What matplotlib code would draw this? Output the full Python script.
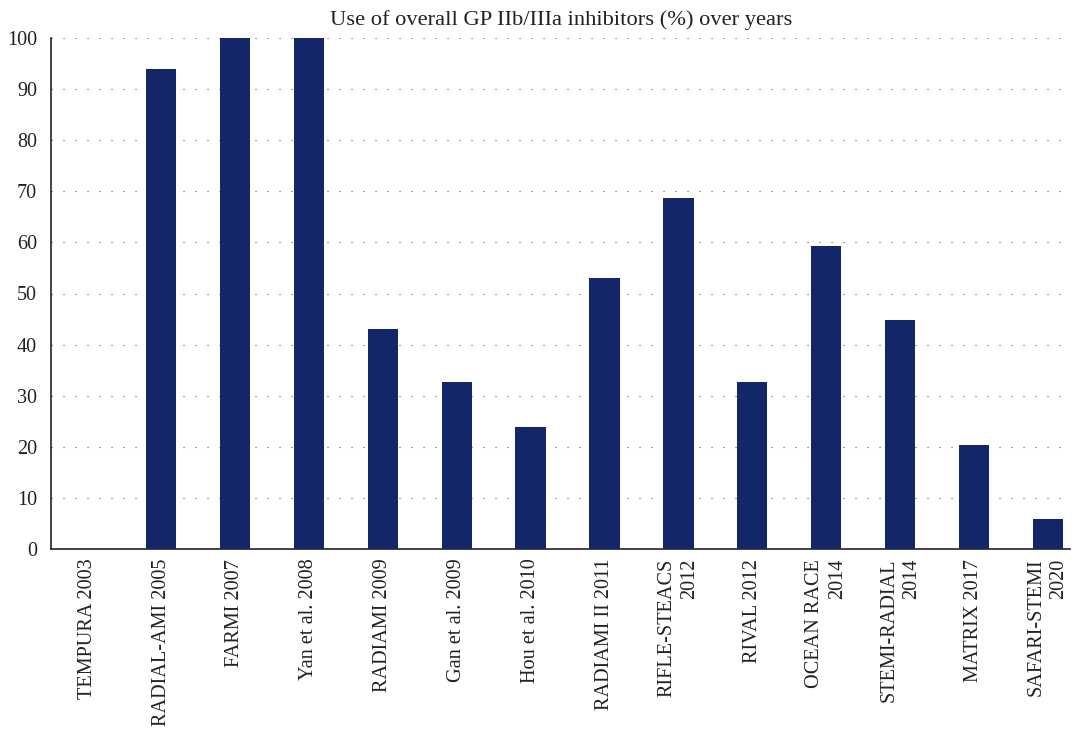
import matplotlib.pyplot as plt

# data
studies = ["TEMPURA 2003", "RADIAL-AMI 2005", "FARMI 2007", "Yan et al. 2008",
           "RADIAMI 2009", "Gan et al. 2009", "Hou et al. 2010", "RADIAMI II 2011",
           "RIFLE-STEACS\n2012", "RIVAL 2012", "OCEAN RACE\n2014",
           "STEMI-RADIAL\n2014", "MATRIX 2017", "SAFARI-STEMI\n2020"]
gp_use = [0, 94, 100, 100, 43, 32.7, 23.8, 53, 68.7, 32.7, 59.3, 44.8, 20.3, 5.9]
yticks = [0, 10, 20, 30, 40, 50, 60, 70, 80, 90, 100]

plt.rcParams["font.family"] = ["Liberation Serif", "DejaVu Serif"]

fig = plt.figure(figsize=(10.76, 7.31), dpi=100)
ax = fig.add_axes([51 / 1076, 1 - 549 / 731, (1070 - 51) / 1076, (549 - 38) / 731])

x = list(range(len(studies)))
ax.bar(x, gp_use, width=0.41, color="#13266a", zorder=3)

ax.set_xlim(-0.49, 13.3)
ax.set_ylim(0, 100)
ax.set_yticks(yticks)
ax.tick_params(axis="y", length=0, labelsize=14.5, colors="#222222", pad=10)
ax.tick_params(axis="x", length=0, pad=7)
ax.set_xticks(x)
ax.set_xticklabels(studies, rotation=90, fontsize=14.6, color="#222222",
                   va="top", ha="center", multialignment="right", linespacing=1.25)

ax.grid(axis="y", linestyle=(0, (1, 9.8)), color="#555555", linewidth=0.8, zorder=0)
for s in ["top", "right"]:
    ax.spines[s].set_visible(False)
for s in ["left", "bottom"]:
    ax.spines[s].set_color("#222222")
    ax.spines[s].set_linewidth(1.2)

ax.set_title("Use of overall GP IIb/IIIa inhibitors (%) over years",
             fontsize=16.2, color="#222222", pad=9, x=(561 - 51) / (1070 - 51))

fig.savefig("out.png", dpi=100)
